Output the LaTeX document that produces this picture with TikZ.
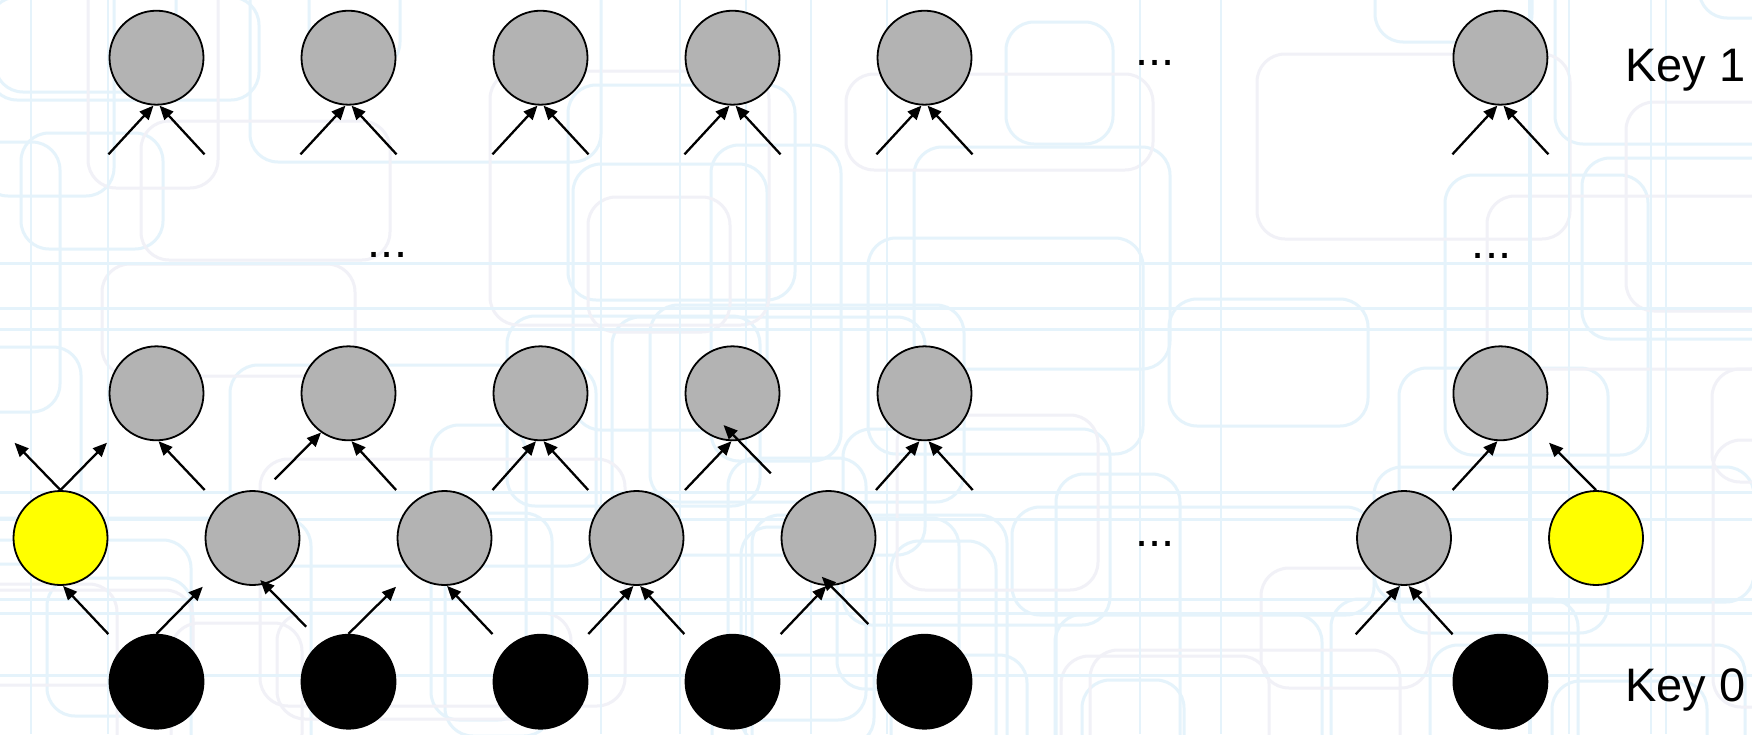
\documentclass[tikz,border=0pt]{standalone}
\usepackage{fontspec}
\setmainfont{Liberation Sans}
\usetikzlibrary{arrows.meta}
\definecolor{bgblue}{RGB}{229,243,251}
\definecolor{bglav}{RGB}{241,241,247}
\definecolor{nodegray}{RGB}{179,179,179}
\definecolor{nodeyellow}{RGB}{255,255,0}
\tikzset{
  ball/.style={circle, draw=black, line width=1.8pt, minimum size=94pt, inner sep=0pt},
  grayball/.style={ball, fill=nodegray},
  yellowball/.style={ball, fill=nodeyellow},
  blackball/.style={ball, fill=black},
  arr/.style={line width=2.3pt, -{Triangle[length=14pt,width=12pt]}},
  bigtext/.style={font=\fontsize{47}{56}\selectfont, inner sep=0pt},
  dotstext/.style={bigtext, anchor=base},
  bgbox/.style={draw=bgblue, line width=3pt, rounded corners=28pt},
  bgbox2/.style={draw=bglav, line width=3pt, rounded corners=28pt},
}
\begin{document}
\begin{tikzpicture}[x=1pt,y=-1pt]
\useasboundingbox (0,0) rectangle (1752,734);
\fill[white] (0,0) rectangle (1752,734);
% decorative background pattern
\begin{scope}
\clip (0,0) rectangle (1752,734);
\pgfmathsetseed{42}
\foreach \i in {1,...,45}{
  \pgfmathsetmacro\xa{random(-150,1720)}
  \pgfmathsetmacro\ya{random(-150,700)}
  \pgfmathsetmacro\w{random(90,380)}
  \pgfmathsetmacro\h{random(90,320)}
  \draw[bgbox] (\xa,\ya) rectangle ++(\w,\h);
}
\foreach \i in {1,...,20}{
  \pgfmathsetmacro\xa{random(-150,1720)}
  \pgfmathsetmacro\ya{random(-150,700)}
  \pgfmathsetmacro\w{random(90,380)}
  \pgfmathsetmacro\h{random(90,320)}
  \draw[bgbox2] (\xa,\ya) rectangle ++(\w,\h);
}
\foreach \i in {1,...,14}{
  \pgfmathsetmacro\xa{random(0,1752)}
  \draw[draw=bgblue, line width=2.5pt] (\xa,0) -- (\xa,734);
}
\foreach \i in {1,...,8}{
  \pgfmathsetmacro\ya{random(0,734)}
  \draw[draw=bgblue, line width=3pt] (0,\ya) -- (1752,\ya);
}
\end{scope}

% top row (Key 1 level)
\node[grayball] (A1) at (156.5,57.7) {};
\node[grayball] (A2) at (348.5,57.7) {};
\node[grayball] (A3) at (540.5,57.7) {};
\node[grayball] (A4) at (732.5,57.7) {};
\node[grayball] (A5) at (924.5,57.7) {};
\node[grayball] (A6) at (1500.4,57.7) {};

% row C
\node[grayball] (C1) at (156.5,393.3) {};
\node[grayball] (C2) at (348.5,393.3) {};
\node[grayball] (C3) at (540.5,393.3) {};
\node[grayball] (C4) at (732.5,393.3) {};
\node[grayball] (C5) at (924.5,393.3) {};
\node[grayball] (C6) at (1500.4,393.3) {};

% row D
\node[yellowball] (Y1) at (60.5,538) {};
\node[grayball] (D2) at (252.5,538) {};
\node[grayball] (D3) at (444.5,538) {};
\node[grayball] (D4) at (636.5,538) {};
\node[grayball] (D5) at (828.5,538) {};
\node[grayball] (D6) at (1404,538) {};
\node[yellowball] (Y2) at (1596,538) {};

% row E (Key 0 level)
\node[blackball] (E1) at (156.5,681.7) {};
\node[blackball] (E2) at (348.5,681.7) {};
\node[blackball] (E3) at (540.5,681.7) {};
\node[blackball] (E4) at (732.5,681.7) {};
\node[blackball] (E5) at (924.5,681.7) {};
\node[blackball] (E6) at (1500.4,681.7) {};

% labels
\node[bigtext, anchor=base west] (k1) at (1625,81.7) {Key 1};
\node[bigtext, anchor=base west] (k0) at (1625,701.7) {Key 0};
\node[dotstext] (dt1) at (1155,65) {...};
\node[dotstext] (dt2) at (387.5,257.5) {...};
\node[dotstext] (dt3) at (1491.5,258) {...};
\node[dotstext] (dt4) at (1155,546.5) {...};

% free ends for top row arrows
\foreach \n/\cx in {A1/156.5,A2/348.5,A3/540.5,A4/732.5,A5/924.5,A6/1500.4}{
  \coordinate (\n l) at (\cx-48,154.3);
  \coordinate (\n r) at (\cx+48,154.3);
  \draw[arr] (\n l) -- ([xshift=-3pt]\n.south);
  \draw[arr] (\n r) -- ([xshift=3pt]\n.south);
}

% free ends for lower arrows
\coordinate (y1ul) at (14.5,442.7);
\coordinate (y1ur) at (107,442.7);
\coordinate (c1r) at (204.7,490);
\coordinate (c2l) at (274.8,479.3);
\coordinate (c2r) at (396.1,490);
\coordinate (c3l) at (492.5,490);
\coordinate (c3r) at (588.2,490);
\coordinate (c4l) at (685,490);
\coordinate (c4r) at (770.7,473.3);
\coordinate (c5l) at (876,490);
\coordinate (c5r) at (972.7,490);
\coordinate (c6l) at (1452.6,490);
\coordinate (y2ul) at (1549,442.7);
\coordinate (y1r) at (108.3,634);
\coordinate (e1ur) at (202.8,586.7);
\coordinate (d2r) at (306.2,626.7);
\coordinate (e2ur) at (396.1,586.7);
\coordinate (d3r) at (492.5,634);
\coordinate (d4l) at (588.3,634);
\coordinate (d4r) at (684.3,634);
\coordinate (d5l) at (780.7,634);
\coordinate (d5r) at (868.3,624);
\coordinate (d6l) at (1355.7,634.3);
\coordinate (d6r) at (1452.6,634.3);

% row C arrows
\draw[arr] (Y1.north) -- (y1ul);
\draw[arr] (Y1.north) -- (y1ur);
\draw[arr] (c1r) -- ([xshift=2pt]C1.south);
\draw[arr] (c2l) -- (C2.235);
\draw[arr] (c2r) -- ([xshift=3pt]C2.south);
\draw[arr] (c3l) -- ([xshift=-4.5pt]C3.south);
\draw[arr] (c3r) -- ([xshift=3pt]C3.south);
\draw[arr] (c4l) -- ([xshift=-1pt]C4.south);
\draw[arr] (c4r) -- ([shift={(-9,31.7)}]C4.center);
\draw[arr] (c5l) -- ([xshift=-5pt]C5.south);
\draw[arr] (c5r) -- ([xshift=4pt]C5.south);
\draw[arr] (c6l) -- ([xshift=-3pt]C6.south);
\draw[arr] (Y2.north) -- (y2ul);

% row D arrows
\draw[arr] (y1r) -- ([xshift=2.5pt]Y1.south);
\draw[arr] (E1.north) -- (e1ur);
\draw[arr] (d2r) -- ([shift={(7.7,42)}]D2.center);
\draw[arr] (E2.north) -- (e2ur);
\draw[arr] (d3r) -- ([xshift=2.5pt]D3.south);
\draw[arr] (d4l) -- ([xshift=-3pt]D4.south);
\draw[arr] (d4r) -- ([xshift=3.5pt]D4.south);
\draw[arr] (d5l) -- ([xshift=-2pt]D5.south);
\draw[arr] (d5r) -- ([shift={(-6.8,38.7)}]D5.center);
\draw[arr] (d6l) -- ([xshift=-4pt]D6.south);
\draw[arr] (d6r) -- ([xshift=4.5pt]D6.south);
\end{tikzpicture}
\end{document}
